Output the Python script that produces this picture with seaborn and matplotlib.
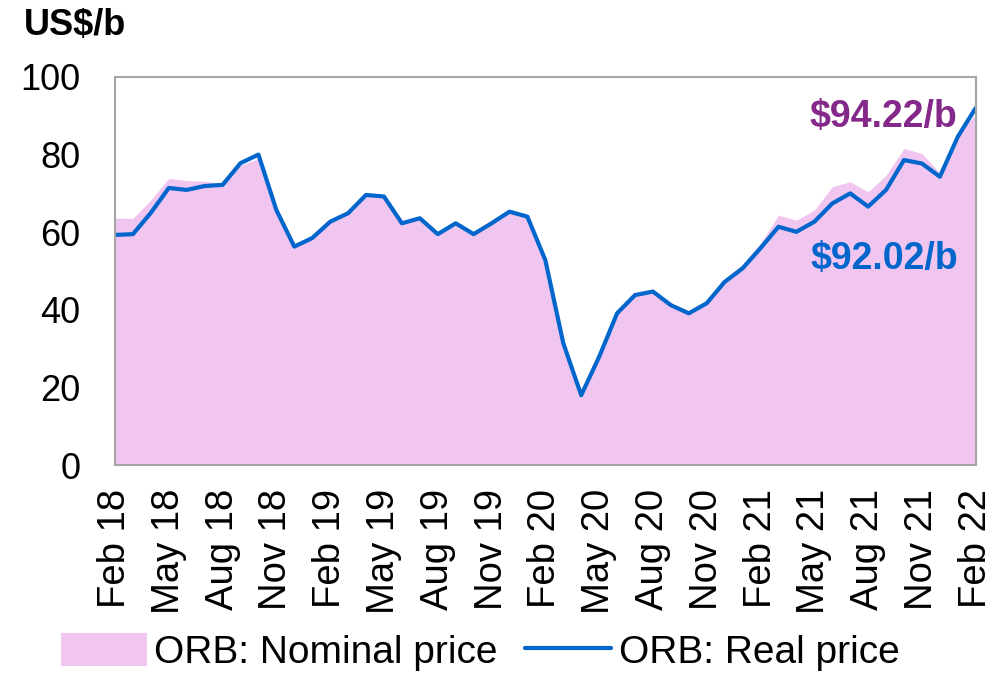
import numpy as np
import pandas as pd
import matplotlib
matplotlib.use("Agg")
import matplotlib.pyplot as plt
import seaborn as sns
from matplotlib.patches import Patch
from matplotlib.lines import Line2D

# monthly data, Feb 2018 .. Feb 2022
months = pd.date_range("2018-02-01", "2022-02-01", freq="MS")

real_price = [59.3, 59.5, 65.0, 71.4, 70.9, 71.9, 72.2, 77.8, 80.0, 65.7, 56.3,
              58.5, 62.7, 64.9, 69.6, 69.2, 62.3, 63.6, 59.5, 62.3, 59.5, 62.3, 65.3,
              64.0, 52.8, 31.4, 18.0, 27.9, 39.1, 43.8, 44.7, 41.2, 39.1, 41.7, 47.2,
              50.7, 55.9, 61.4, 60.1, 62.7, 67.4, 70.0, 66.6, 70.9, 78.6, 77.7, 74.3,
              84.6, 92.02]

nominal_price = [63.6, 63.6, 68.3, 73.9, 73.3, 73.1, 72.6, 77.2, 79.0, 65.5, 56.3,
                 58.7, 63.2, 65.6, 70.0, 69.5, 62.6, 64.0, 59.8, 62.5, 59.7, 62.4, 65.5,
                 64.0, 52.8, 31.3, 18.0, 28.0, 39.3, 44.0, 45.0, 41.6, 39.6, 42.3, 48.0,
                 51.6, 57.2, 64.4, 63.1, 65.7, 71.7, 73.0, 70.4, 74.7, 81.6, 80.3, 75.2,
                 85.0, 90.5]

nominal_label = "$94.22/b"
real_label = "$92.02/b"

df = pd.DataFrame({"month": months, "real": real_price, "nominal": nominal_price})
df["idx"] = np.arange(len(df))
tick_idx = df["idx"][::3]
tick_labels = df["month"][::3].dt.strftime("%b %y")

pink = "#F0C6F0"
blue = "#0066CC"
purple = "#84288A"

sns.set_style("white")
plt.rcParams["font.family"] = ["Liberation Sans", "DejaVu Sans"]
plt.rcParams["text.color"] = "black"
plt.rcParams["xtick.color"] = "black"
plt.rcParams["ytick.color"] = "black"

fig = plt.figure(figsize=(10.06, 6.73), dpi=100)
ax = fig.add_axes([0.1143, 0.309, 0.8556, 0.5766])

ax.fill_between(df["idx"], df["nominal"], 0, color=pink, linewidth=0)
sns.lineplot(data=df, x="idx", y="real", color=blue, linewidth=3, ax=ax)

ax.set_xlim(0, 48)
ax.set_ylim(0, 100)
ax.set_yticks(range(0, 101, 20))
ax.set_xticks(tick_idx)
ax.set_xticklabels(tick_labels, rotation=90)
ax.tick_params(axis="y", labelsize=26, pad=25, length=0)
ax.tick_params(axis="x", labelsize=27.5, pad=17, length=0)
ax.set_xlabel("")
ax.set_ylabel("")

for s in ax.spines.values():
    s.set_color("#A6A6A6")
    s.set_linewidth(1.5)

ax.text(46.95, 89.7, nominal_label, color=purple, fontsize=27, fontweight="bold",
        ha="right", va="center")
ax.text(47.0, 53.2, real_label, color=blue, fontsize=27, fontweight="bold",
        ha="right", va="center")

fig.text(0.024, 0.962, "US$/b", fontsize=26, fontweight="bold", ha="left", va="center")

handles = [Patch(facecolor=pink, edgecolor="none"),
           Line2D([0], [0], color=blue, linewidth=3)]
fig.legend(handles, ["ORB: Nominal price", "ORB: Real price"], loc="center left",
           bbox_to_anchor=(0.026, 0.031), ncol=2, frameon=False,
           prop={"size": 28}, handlelength=2.2, handleheight=0.9,
           handletextpad=0.2, columnspacing=0.7)

fig.savefig("out.png", dpi=100)
